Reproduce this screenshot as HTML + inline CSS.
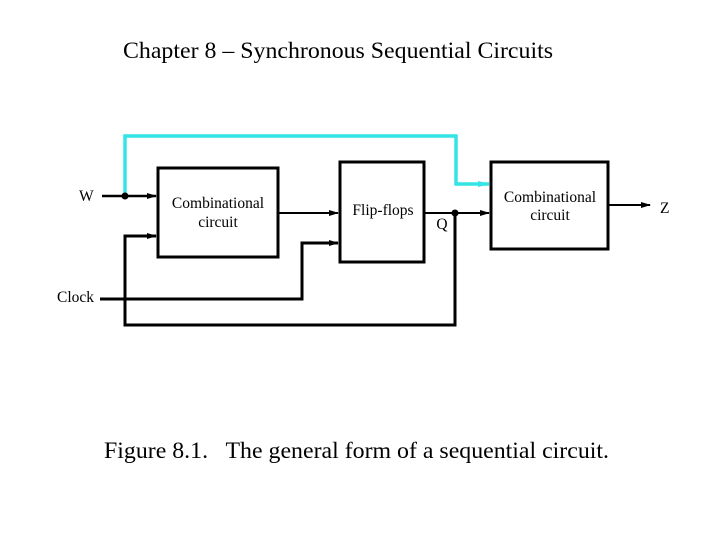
<!DOCTYPE html>
<html><head><style>
body{margin:0;width:720px;height:540px;background:#fff;overflow:hidden}
svg{display:block}
text{font-family:"Liberation Serif",serif;fill:#000;white-space:pre}
</style></head><body>
<svg width="720" height="540" viewBox="0 0 720 540">
<defs><marker id="a" markerWidth="10" markerHeight="8" refX="9" refY="4" orient="auto" markerUnits="userSpaceOnUse"><path d="M0,1 L10,4 L0,7 z" fill="#000"/></marker>
<marker id="c" markerWidth="12" markerHeight="8" refX="11" refY="4" orient="auto" markerUnits="userSpaceOnUse"><path d="M0,1 L12,4 L0,7 z" fill="#33e5e5"/></marker></defs>
<text x="123" y="58" font-size="23.5" textLength="430" lengthAdjust="spacingAndGlyphs">Chapter 8 – Synchronous Sequential Circuits</text>
<text x="104" y="458" font-size="23.5" xml:space="preserve" textLength="505" lengthAdjust="spacingAndGlyphs">Figure 8.1.   The general form of a sequential circuit.</text>
<g fill="none" stroke="#000" stroke-width="3">
<rect x="158" y="168" width="120" height="89"/>
<rect x="340" y="162" width="84" height="100"/>
<rect x="491" y="162" width="117" height="87"/>
</g>
<polyline points="125,196 125,136 456,136 456,184 489,184" fill="none" stroke="#33e5e5" stroke-width="3.5" marker-end="url(#c)"/>
<g fill="none" stroke="#000" stroke-width="2.5">
<line x1="102" y1="196" x2="156" y2="196" marker-end="url(#a)"/>
<line x1="278" y1="213" x2="338" y2="213" stroke-width="2" marker-end="url(#a)"/>
<polyline points="100,299 302,299 302,243 338,243" stroke-width="3" marker-end="url(#a)"/>
<polyline points="455,213 455,325 125,325 125,236 156,236" stroke-width="3" marker-end="url(#a)"/>
<line x1="424" y1="213" x2="489" y2="213" stroke-width="2" marker-end="url(#a)"/>
<line x1="608" y1="205" x2="650" y2="205" stroke-width="2" marker-end="url(#a)"/>
</g>
<circle cx="125" cy="196" r="3.5"/>
<circle cx="455" cy="213" r="3.5"/>
<g font-size="15.5">
<text x="79" y="201">W</text>
<text x="57" y="302">Clock</text>
<text x="218" y="208" text-anchor="middle">Combinational</text>
<text x="218" y="227" text-anchor="middle">circuit</text>
<text x="383" y="215" text-anchor="middle">Flip-flops</text>
<text x="442" y="229" text-anchor="middle">Q</text>
<text x="550" y="202" text-anchor="middle">Combinational</text>
<text x="550" y="220" text-anchor="middle">circuit</text>
<text x="660" y="213">Z</text>
</g>
</svg>
</body></html>
